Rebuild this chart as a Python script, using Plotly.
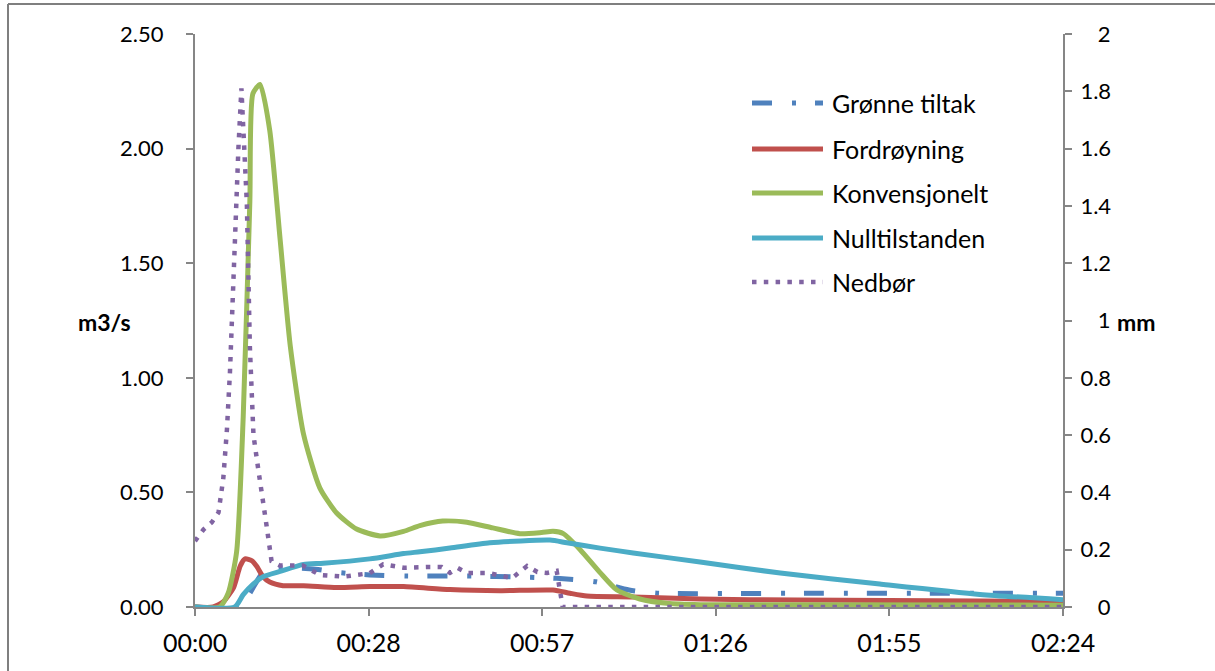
import plotly.graph_objects as go

# ---------------- data (minutes since start) ----------------
tick_vals = [0, 28.8, 57.6, 86.4, 115.2, 144]
tick_labels = ["00:00", "00:28", "00:57", "01:26", "01:55", "02:24"]

t_gronne = [0, 7.5, 9.1, 11.0, 13.5, 20.0, 24.0, 29.0, 35.0, 45.0, 55.0, 60.0, 66.5, 72.0, 77.0, 100.0, 144.0]
q_gronne = [0, 0, 0.06, 0.14, 0.17, 0.165, 0.15, 0.14, 0.135, 0.135, 0.13, 0.125, 0.11, 0.074, 0.06, 0.06, 0.06]

t_ford = [0, 3.0, 4.7, 6.4, 7.5, 8.3, 9.4, 10.2, 11.3, 12.4, 14.6, 18.0, 23.5, 29.0, 34.6, 42.3, 50.6,
          59.4, 62.2, 65.0, 72.7, 83.8, 100, 115, 130, 144]
q_ford = [0, 0, 0.023, 0.085, 0.179, 0.21, 0.202, 0.179, 0.132, 0.109, 0.093, 0.093, 0.085, 0.089, 0.089,
          0.076, 0.071, 0.074, 0.06, 0.048, 0.044, 0.035, 0.03, 0.028, 0.026, 0.024]

t_konv = [0, 4.1, 5.5, 6.9, 8.0, 9.1, 9.6, 10.8, 12.4, 14.1, 15.8, 18.0, 20.7, 23.5, 26.8, 30.7, 34.6,
          37.3, 41.1, 45.1, 49.4, 53.9, 57.5, 59.4, 61.1, 63.9, 67.2, 70.0, 73.8, 78.3, 83.8, 144]
q_konv = [0, 0, 0.06, 0.24, 0.83, 1.77, 2.24, 2.28, 2.08, 1.61, 1.14, 0.755, 0.52, 0.41, 0.34, 0.31, 0.33,
          0.355, 0.375, 0.37, 0.345, 0.32, 0.325, 0.33, 0.32, 0.25, 0.15, 0.074, 0.035, 0.016, 0.01, 0.008]

t_null = [0, 6.6, 8.0, 9.7, 11.3, 14.1, 18.0, 21.3, 29.0, 34.6, 37.3, 42.3, 48.9, 58.9, 61.7, 67.2, 72.7,
          83.8, 97.1, 113.6, 130.2, 144]
q_null = [0, 0, 0.054, 0.101, 0.132, 0.155, 0.186, 0.191, 0.21, 0.233, 0.241, 0.257, 0.28, 0.292, 0.28,
          0.257, 0.236, 0.196, 0.148, 0.1, 0.055, 0.032]

t_rain = [0, 1.4, 2.8, 3.9, 4.7, 5.3, 5.8, 6.1, 6.4, 6.9, 7.2, 7.7, 8.6, 9.1, 9.7, 10.5, 11.1, 11.9, 12.7,
          14.1, 17.9, 20.7, 24.6, 29.0, 31.2, 34.6, 38.9, 40.9, 42.3, 43.6, 45.1, 48.6, 52.6, 55.1, 56.8,
          58.4, 60.0, 60.3, 60.6, 61.0, 144]
p_rain = [0.23, 0.27, 0.296, 0.33, 0.45, 0.62, 0.82, 0.99, 1.19, 1.44, 1.6, 1.81, 1.41, 0.91, 0.6, 0.48,
          0.40, 0.28, 0.16, 0.145, 0.145, 0.112, 0.106, 0.118, 0.149, 0.137, 0.14, 0.14, 0.119, 0.136,
          0.119, 0.119, 0.101, 0.143, 0.122, 0.119, 0.126, 0.087, 0.049, 0.0, 0.0]

series_names = ["Grønne tiltak", "Fordrøyning", "Konvensjonelt", "Nulltilstanden", "Nedbør"]
left_ticks = [0, 0.5, 1.0, 1.5, 2.0, 2.5]
right_ticks = [0, 0.2, 0.4, 0.6, 0.8, 1.0, 1.2, 1.4, 1.6, 1.8, 2.0]

# ---------------- styles ----------------
C_BLUE, C_RED, C_GREEN, C_CYAN, C_PURPLE = "#4F81BD", "#C0504D", "#9BBB59", "#4BACC6", "#8064A2"
DASH_G = "20px,20px,4px,19px"
DASH_R = "4.5px,7.3px"
LW = 5
FONT = "Lato, 'Open Sans', sans-serif"
AX = "#868686"
SM = 0.6

fig = go.Figure()
fig.add_trace(go.Scatter(x=t_gronne, y=q_gronne, mode="lines", name=series_names[0],
                         line=dict(color=C_BLUE, width=LW, dash=DASH_G, shape="spline", smoothing=SM)))
fig.add_trace(go.Scatter(x=t_ford, y=q_ford, mode="lines", name=series_names[1],
                         line=dict(color=C_RED, width=LW, shape="spline", smoothing=SM)))
fig.add_trace(go.Scatter(x=t_konv, y=q_konv, mode="lines", name=series_names[2],
                         line=dict(color=C_GREEN, width=LW, shape="spline", smoothing=SM)))
fig.add_trace(go.Scatter(x=t_null, y=q_null, mode="lines", name=series_names[3],
                         line=dict(color=C_CYAN, width=LW, shape="spline", smoothing=SM)))
fig.add_trace(go.Scatter(x=t_rain, y=p_rain, mode="lines", name=series_names[4], yaxis="y2",
                         line=dict(color=C_PURPLE, width=4.5, dash=DASH_R)))

# right-aligned secondary tick labels
def fmt_r(v):
    s = ("%.1f" % v).rstrip("0").rstrip(".")
    return s if "." in s else "\u2008\u2007" + s

L, R, T, B, W, H = 195, 152, 34, 64, 1215, 671
PW, PH = W - L - R, H - T - B
def px(x):
    return (x - L) / PW
def py(y):
    return (H - B - y) / PH

fig.update_layout(
    width=W, height=H, margin=dict(l=L, r=R, t=T, b=B),
    paper_bgcolor="white", plot_bgcolor="white", showlegend=False,
    font=dict(family=FONT, color="black"),
    xaxis=dict(range=[0, 144], tickvals=tick_vals, ticktext=tick_labels, showgrid=False, zeroline=False,
               showline=True, linecolor=AX, linewidth=2, ticks="outside", ticklen=7, tickcolor=AX,
               tickwidth=1.5, tickfont=dict(size=25, family=FONT), ticklabelstandoff=6),
    yaxis=dict(range=[0, 2.5], tickvals=left_ticks, tickformat=".2f", showgrid=False, zeroline=False,
               showline=True, linecolor=AX, linewidth=2, ticks="outside", ticklen=7, tickcolor=AX,
               tickwidth=1.5, tickfont=dict(size=22, family=FONT), ticklabelstandoff=18),
    yaxis2=dict(range=[0, 2], overlaying="y", side="right", tickvals=right_ticks,
                ticktext=[fmt_r(v) for v in right_ticks], showgrid=False, zeroline=False,
                showline=True, linecolor=AX, linewidth=2, ticks="outside", ticklen=7, tickcolor=AX,
                tickwidth=1.5, tickfont=dict(size=22, family=FONT), ticklabelstandoff=4),
)

# outer chart-area border (top and left edges visible)
fig.add_shape(type="line", xref="paper", yref="paper", x0=px(8), x1=px(1215), y0=py(4), y1=py(4),
              line=dict(color="#7f7f7f", width=2))
fig.add_shape(type="line", xref="paper", yref="paper", x0=px(8), x1=px(8), y0=py(4), y1=py(671),
              line=dict(color="#7f7f7f", width=2))

# axis titles
fig.add_annotation(text="<b>m3/s</b>", xref="paper", yref="paper", x=px(76), y=py(322),
                   showarrow=False, font=dict(size=23, family=FONT))
fig.add_annotation(text="<b>mm</b>", xref="paper", yref="paper", x=px(1158), y=py(322),
                   showarrow=False, font=dict(size=23, family=FONT))

# legend
leg_rows = [103, 149, 193, 238, 282]
leg_styles = [dict(color=C_BLUE, width=LW, dash=DASH_G), dict(color=C_RED, width=LW),
              dict(color=C_GREEN, width=LW), dict(color=C_CYAN, width=LW),
              dict(color=C_PURPLE, width=4.5, dash=DASH_R)]
for name, yy, st in zip(series_names, leg_rows, leg_styles):
    fig.add_shape(type="line", xref="paper", yref="paper", x0=px(752), x1=px(823), y0=py(yy), y1=py(yy),
                  line=st)
    fig.add_annotation(text=name, xref="paper", yref="paper", x=px(830), y=py(yy), xanchor="left",
                       yanchor="middle", showarrow=False, font=dict(size=25, family=FONT))

fig.write_html("out.html")
